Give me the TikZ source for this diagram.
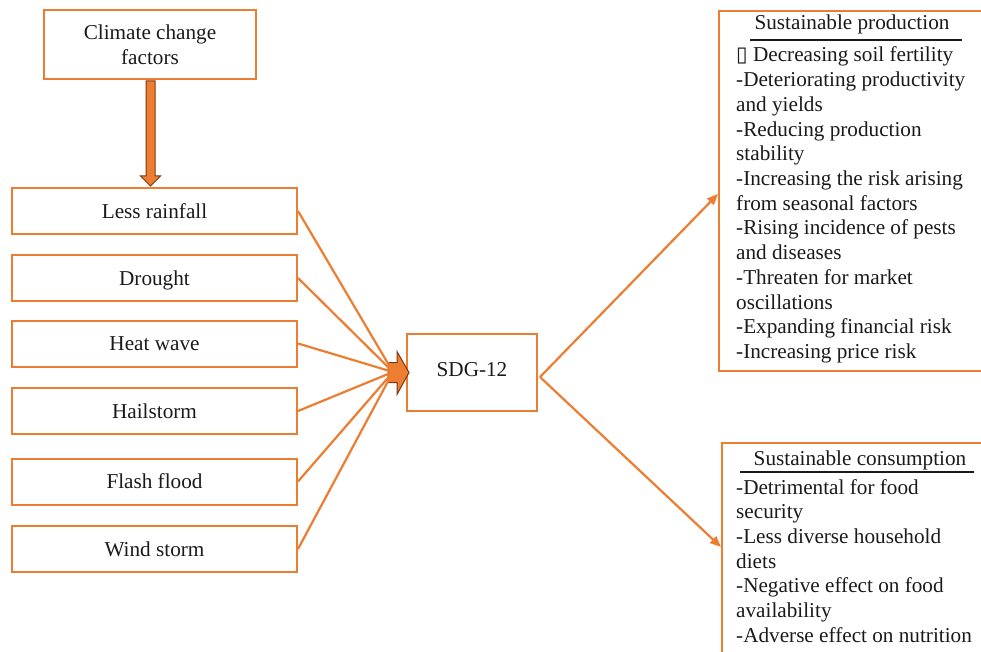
\documentclass[tikz,border=0pt]{standalone}
\usepackage{fontspec}
\setmainfont{Liberation Serif}
\newfontfamily\glyphfont{DejaVu Sans}
\usetikzlibrary{arrows.meta,calc}
\definecolor{orng}{HTML}{ED7D31}
\definecolor{brwn}{HTML}{7A3A12}
\definecolor{txt}{HTML}{1A1A1A}
\begin{document}
\begin{tikzpicture}[x=1pt,y=-1pt,
  every node/.style={font=\fontsize{21.2}{25}\selectfont, inner sep=0pt, text=txt},
  obox/.style={draw=orng, line width=2pt},
  leftbox/.style={obox, minimum width=285pt, minimum height=46pt, text height=14.5pt, text depth=0pt},
  conn/.style={draw=orng, line width=2.2pt},
  arr/.style={conn, -{Triangle[length=11pt,width=9pt]}},
  blockarr/.style={fill=orng, draw=brwn, line width=1pt, line join=miter}]
\useasboundingbox (0,0) rectangle (981,652);
\clip (0,0) rectangle (981,652);

% top box and left boxes
\node[obox, minimum width=212pt, minimum height=69pt, align=center] (ccf) at (150,44.5) {Climate change\\factors};
\node[leftbox] (lr) at (154.5,211) {Less rainfall};
\node[leftbox] (dr) at (154.5,278) {Drought};
\node[leftbox] (hw) at (154.5,343.5) {Heat wave};
\node[leftbox] (hs) at (154.5,411) {Hailstorm};
\node[leftbox] (ff) at (154.5,481.5) {Flash flood};
\node[leftbox] (ws) at (154.5,549) {Wind storm};

% centre box
\node[obox, minimum width=130pt, minimum height=77pt, text height=14.5pt, text depth=7.5pt] (sdg) at (472,372.5) {SDG-12};

% right boxes (cut by the page edge)
\node[obox, minimum width=290pt, minimum height=360pt] (prod) at (864,191) {};
\node[obox, minimum width=290pt, minimum height=260pt] (cons) at (867,573) {};

% big vertical block arrow
\coordinate (va) at ($(ccf.south)+(0.5,1)$);
\coordinate (vb) at ($(va |- lr.north)+(0,-1)$);
\draw[blockarr] ($(va)+(-4.5,0)$) -- ($(va)+(4.5,0)$)
  -- ($(vb)+(4.5,-10)$) -- ($(vb)+(10,-10)$) -- (vb)
  -- ($(vb)+(-10,-10)$) -- ($(vb)+(-4.5,-10)$) -- cycle;

% block arrow into SDG-12
\coordinate (conv) at (393,372);
\draw[blockarr] ($(sdg.west)+(-18,-10)$) -- ($(sdg.west)+(-9,-10)$) -- ($(sdg.west)+(-9,-21)$)
  -- ($(sdg.west)+(3,0)$) -- ($(sdg.west)+(-9,22)$) -- ($(sdg.west)+(-9,10)$)
  -- ($(sdg.west)+(-18,10)$) -- cycle;

% fan of connectors
\foreach \n in {lr,dr,hw,hs,ff,ws}{
  \draw[conn] (\n.east) -- (conv);
}

% connectors to the right boxes
\coordinate (sdgout) at ($(sdg.east)+(2,4.5)$);
\draw[arr] (sdgout) -- ($(prod.west)+(0,3)$);
\draw[arr] (sdgout) -- ($(cons.north west)+(0,105)$);

% production box text
\node[anchor=base] (ph) at (852,30) {Sustainable production};
\draw[line width=1.5pt, txt] (750,40) -- (962,40);
\foreach \t [count=\i] in {{\glyphfont\fontsize{21}{21}\selectfont ▯} Decreasing soil fertility,
  -Deteriorating productivity, and yields, -Reducing production, stability,
  -Increasing the risk arising, from seasonal factors, -Rising incidence of pests,
  and diseases, -Threaten for market, oscillations, -Expanding financial risk,
  -Increasing price risk}{
  \node[anchor=base west] (p\i) at (736,{62+24.7*(\i-1)}) {\t};
}

% consumption box text
\node[anchor=base] (ch) at (860,465) {Sustainable consumption};
\draw[line width=1.5pt, txt] (740,472) -- (974,472);
\foreach \t [count=\i] in {-Detrimental for food, security, -Less diverse household, diets,
  -Negative effect on food, availability, -Adverse effect on nutrition}{
  \node[anchor=base west] (c\i) at (736,{494+24.67*(\i-1)}) {\t};
}
\end{tikzpicture}
\end{document}
